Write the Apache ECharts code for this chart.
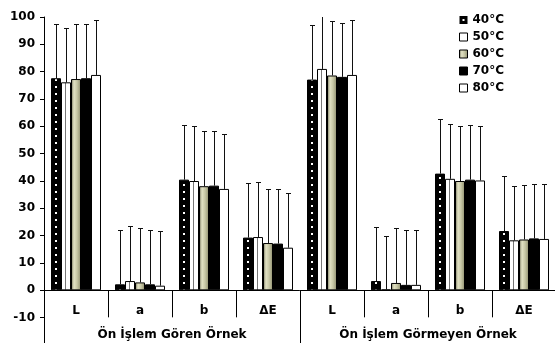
<!DOCTYPE html>
<html><head><meta charset="utf-8">
<script src="https://cdn.jsdelivr.net/npm/echarts@6/dist/echarts.min.js"></script>
<style>html,body{margin:0;padding:0;background:#fff}#c{width:555px;height:343px}</style>
</head><body><div id="c"></div>
<script>
const categories = ['L', 'a', 'b', 'ΔE', 'L', 'a', 'b', 'ΔE'];
const groups = ['Ön İşlem Gören Örnek', 'Ön İşlem Görmeyen Örnek'];
const seriesNames = ['40°C', '50°C', '60°C', '70°C', '80°C'];
const yTickLabels = [-10, 0, 10, 20, 30, 40, 50, 60, 70, 80, 90, 100];

const t40 = [77.6, 2.2, 40.5, 19.3, 77.1, 3.4, 42.7, 21.7];
const t50 = [76.1, 3.4, 40.0, 19.5, 81.0, 0.3, 40.8, 18.3];
const t60 = [77.3, 2.9, 38.1, 17.3, 78.6, 2.7, 40.0, 18.6];
const t70 = [77.6, 2.2, 38.3, 17.1, 78.1, 2.0, 40.5, 19.0];
const t80 = [78.8, 1.7, 37.1, 15.6, 78.8, 2.0, 40.2, 18.8];

const e40 = [20.0, 19.8, 20.0, 20.0, 19.8, 19.8, 20.0, 20.0];
const e50 = [20.0, 20.0, 20.0, 20.3, 20.0, 19.7, 19.9, 20.0];
const e60 = [20.0, 20.0, 20.2, 19.8, 20.0, 20.0, 20.0, 20.0];
const e70 = [20.0, 19.8, 20.0, 20.0, 19.7, 20.0, 20.0, 19.8];
const e80 = [20.0, 20.0, 20.0, 20.0, 20.0, 20.0, 20.1, 20.0];

const FONT = 'DejaVu Sans';
const BAR_W = 10;
const Y_MIN = -20, Y_MAX = 100;
const GRID_TOP = 17, GRID_BOTTOM = -2, CANVAS_H = 343;
// distance from grid bottom up to the zero line
const zeroOffset = -((CANVAS_H - GRID_BOTTOM - GRID_TOP) * (0 - Y_MIN) / (Y_MAX - Y_MIN));

function makeTile(w, h, bg, draw) {
  const c = document.createElement('canvas');
  c.width = w; c.height = h;
  const g = c.getContext('2d');
  g.fillStyle = bg; g.fillRect(0, 0, w, h);
  draw(g);
  return c;
}
const dotTile = makeTile(64, 7, '#000', g => { g.fillStyle = '#fff'; g.fillRect(55, 2, 2, 2); });
const lineTile = makeTile(64, 8, '#fff', g => { g.fillStyle = '#777'; g.fillRect(1, 0, 1, 8); });

const gradient60 = new echarts.graphic.LinearGradient(0, 0, 1, 0, [
  { offset: 0, color: '#6e6e56' },
  { offset: 0.3, color: '#e2e2c4' },
  { offset: 0.6, color: '#c8c8a6' },
  { offset: 1, color: '#8c8c6c' }
]);

const styles = [
  { color: { image: dotTile, repeat: 'repeat' }, borderColor: '#000', borderWidth: 1 },
  { color: { image: lineTile, repeat: 'repeat' }, borderColor: '#000', borderWidth: 1 },
  { color: gradient60, borderColor: '#000', borderWidth: 1 },
  { color: '#000', borderColor: '#000', borderWidth: 1 },
  { color: '#fff', borderColor: '#000', borderWidth: 1 }
];

const vals = [t40, t50, t60, t70, t80];
const errs = [e40, e50, e60, e70, e80];

const series = [];
vals.forEach((v, k) => {
  series.push({
    type: 'bar', name: seriesNames[k], data: v, barWidth: BAR_W, barGap: '0%',
    itemStyle: styles[k], silent: true
  });
});
vals.forEach((v, k) => {
  series.push({
    type: 'custom', name: 'err' + k, clip: true, z: 5, silent: true,
    data: v.map((val, i) => [i, val, val + errs[k][i]]),
    encode: { x: 0, y: [1, 2] },
    renderItem: (params, api) => {
      const c0 = api.coord([api.value(0), api.value(1)]);
      const c1 = api.coord([api.value(0), api.value(2)]);
      const x = Math.round(c0[0] + (k - 2) * BAR_W) + 0.5;
      const yt = Math.round(c1[1]) + 0.5;
      const st = { stroke: '#111', lineWidth: 1 };
      return {
        type: 'group', children: [
          { type: 'line', shape: { x1: x, y1: c0[1], x2: x, y2: yt }, style: st },
          { type: 'line', shape: { x1: x - 2.5, y1: yt, x2: x + 2.5, y2: yt }, style: st }
        ]
      };
    }
  });
});

const txt = { fontFamily: FONT, fontWeight: 'bold', fontSize: 12, color: '#000' };

const chart = echarts.init(document.getElementById('c'), null, { renderer: 'canvas' });
chart.setOption({
  animation: false,
  backgroundColor: '#fff',
  grid: { left: 44, right: -1, top: GRID_TOP, bottom: GRID_BOTTOM, containLabel: false, outerBoundsMode: 'none' },
  legend: {
    orient: 'vertical', left: 459, top: 13, padding: 0, itemWidth: 8, itemHeight: 8, itemGap: 3,
    textStyle: Object.assign({ lineHeight: 14 }, txt),
    data: [
      { name: seriesNames[0], icon: 'path://M0,0H8V8H0Z M3,3V5H5V3Z', itemStyle: { color: '#000', borderWidth: 0 } },
      { name: seriesNames[1], icon: 'rect', itemStyle: { color: '#fff', borderColor: '#000', borderWidth: 1 } },
      { name: seriesNames[2], icon: 'rect', itemStyle: { color: gradient60, borderColor: '#000', borderWidth: 1 } },
      { name: seriesNames[3], icon: 'rect', itemStyle: { color: '#000', borderColor: '#000', borderWidth: 1 } },
      { name: seriesNames[4], icon: 'rect', itemStyle: { color: '#fff', borderColor: '#000', borderWidth: 1 } }
    ]
  },
  xAxis: [
    {
      type: 'category', data: categories, position: 'bottom', offset: zeroOffset,
      axisLine: { show: true, onZero: false, lineStyle: { color: '#000', width: 1 } },
      axisTick: { show: true, interval: 0, length: 27, lineStyle: { color: '#000' } },
      axisLabel: Object.assign({ interval: 0, margin: 15, hideOverlap: false, showMinLabel: true, showMaxLabel: true }, txt)
    },
    {
      type: 'category', data: groups, position: 'bottom',
      axisLine: { show: false, onZero: false },
      axisTick: { show: true, inside: true, interval: 0, length: 55, lineStyle: { color: '#000' } },
      axisLabel: Object.assign({ inside: true, interval: 0, margin: 4 }, txt)
    }
  ],
  yAxis: {
    type: 'value', min: Y_MIN, max: Y_MAX, interval: 10,
    axisLine: { show: true, lineStyle: { color: '#000', width: 1 } },
    axisTick: { show: true, length: 4, lineStyle: { color: '#000' } },
    splitLine: { show: false },
    axisLabel: Object.assign({
      margin: 9, showMinLabel: false,
      formatter: v => (yTickLabels.indexOf(v) >= 0 ? String(v) : '')
    }, txt)
  },
  series: series
});
</script>
</body></html>
